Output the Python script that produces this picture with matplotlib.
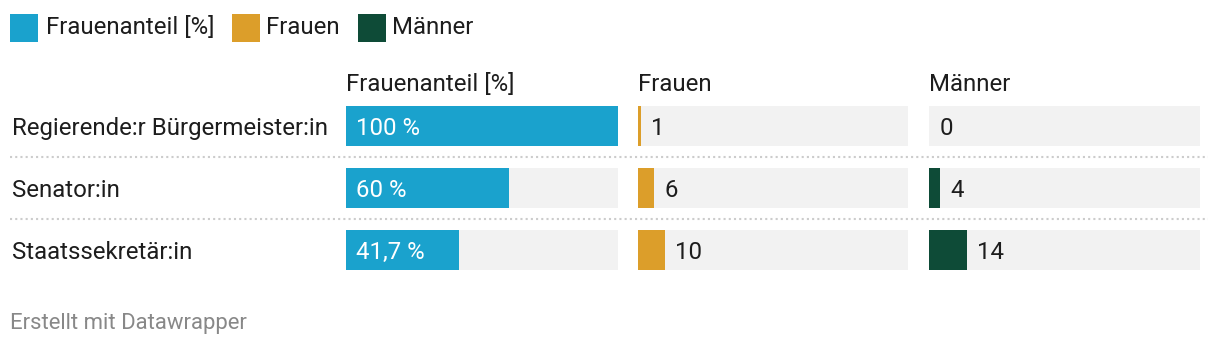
import matplotlib
matplotlib.use("Agg")
import matplotlib.pyplot as plt
from matplotlib.patches import Rectangle
from matplotlib.transforms import blended_transform_factory
from matplotlib.lines import Line2D

plt.rcParams['font.family'] = ['Roboto', 'DejaVu Sans']

categories = ["Regierende:r Bürgermeister:in", "Senator:in", "Staatssekretär:in"]
frauenanteil = [100, 60, 41.7]
frauen = [1, 6, 10]
maenner = [0, 4, 14]
columns = ["Frauenanteil [%]", "Frauen", "Männer"]
colors = ["#1aa2cd", "#dc9e2a", "#0e4b37"]
scale_max = 100

W, H = 1220, 348
FS = 17.3
PX2PT = 72 / 100
fig = plt.figure(figsize=(W / 100, H / 100), dpi=100)

def fx(px):
    return px / W

def fy(py):
    return 1 - py / H

col_px = [(346, 618), (638, 908), (929, 1200)]
top_px, bot_px = 95, 281
series = [frauenanteil, frauen, maenner]
fmt = [lambda v: (f"{v:g}".replace(".", ",") + " %"), lambda v: f"{v:g}", lambda v: f"{v:g}"]
base_off = -9 * PX2PT   # baseline below row centre

axes = []
for i, ((x0, x1), vals, col) in enumerate(zip(col_px, series, colors)):
    ax = fig.add_axes([fx(x0), fy(bot_px), fx(x1 - x0), (bot_px - top_px) / H])
    ypos = list(range(len(categories)))
    ax.barh(ypos, [scale_max] * len(vals), height=0.645, color="#f2f2f2", left=0)
    ax.barh(ypos, vals, height=0.645, color=col, left=0)
    ax.set_xlim(0, scale_max)
    ax.set_ylim(len(categories) - 0.5, -0.5)
    ax.axis("off")
    for y, v in zip(ypos, vals):
        if i == 0:
            ax.annotate(fmt[i](v), xy=(0, y), xytext=(7.5, base_off), textcoords="offset points",
                        va="baseline", ha="left", color="white", fontsize=FS)
        else:
            ax.annotate(fmt[i](v), xy=(v, y), xytext=(7.5, base_off), textcoords="offset points",
                        va="baseline", ha="left", color="#1d1d1d", fontsize=FS)
    fig.text(fx(x0), fy(91), columns[i], ha="left", va="baseline", fontsize=FS, color="#1d1d1d")
    axes.append(ax)

ax1 = axes[0]
tr = blended_transform_factory(fig.transFigure, ax1.transData)
for y, c in enumerate(categories):
    ax1.annotate(c, xy=(fx(12), y), xycoords=tr, xytext=(0, base_off), textcoords="offset points",
                 ha="left", va="baseline", fontsize=FS, color="#1d1d1d")
for y in [0.5, 1.5]:
    ax1.add_line(Line2D([fx(10), fx(1208)], [y, y], transform=tr, clip_on=False,
                        color="#cccccc", linewidth=1.5, linestyle=(0, (1, 1.5))))

# legend
leg = [(10, 46), (232, 266), (358, 392)]
for (sx, tx), name, col in zip(leg, columns, colors):
    fig.patches.append(Rectangle((fx(sx), fy(42)), fx(28), 28 / H, transform=fig.transFigure,
                                 facecolor=col, edgecolor="none"))
    fig.text(fx(tx), fy(34.5), name, ha="left", va="baseline", fontsize=FS, color="#1d1d1d")

fig.text(fx(10), fy(329), "Erstellt mit Datawrapper", ha="left", va="baseline", fontsize=15.9, color="#888888")

fig.savefig("out.png", dpi=100, facecolor="white")
